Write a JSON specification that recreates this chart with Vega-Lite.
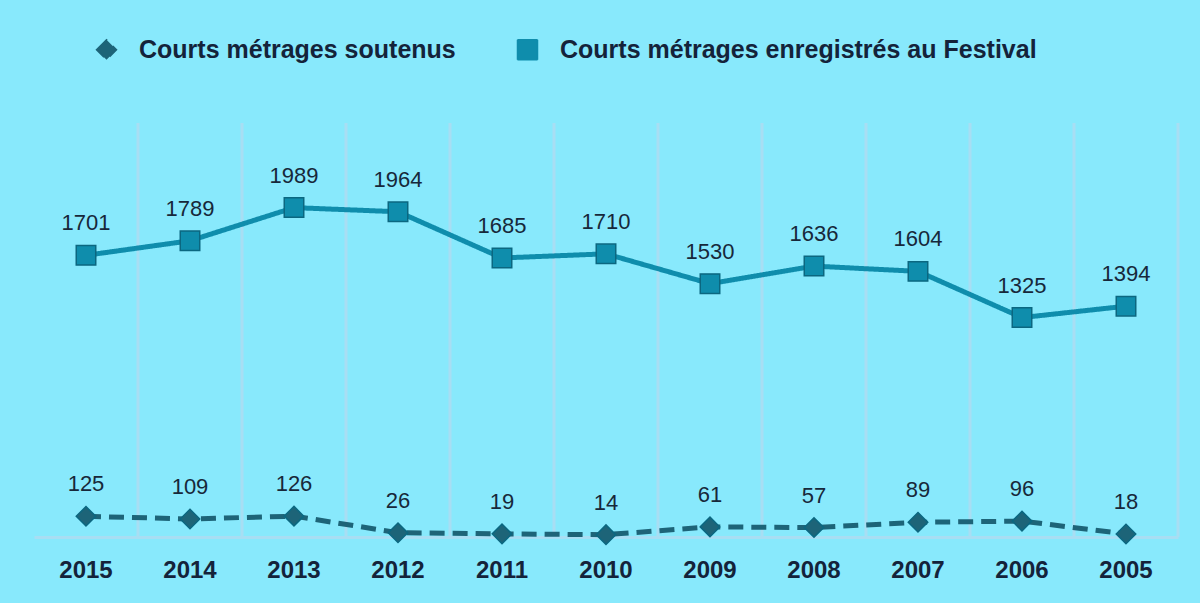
{
  "$schema": "https://vega.github.io/schema/vega-lite/v6.json",
  "width": 1144,
  "height": 414,
  "autosize": {"type": "none"},
  "padding": {"left": 34, "top": 123, "right": 22, "bottom": 66},
  "background": "#88e9fc",
  "config": {
    "view": {"stroke": null},
    "font": "Liberation Sans"
  },
  "data": {
    "values": [
      {"annee": "2015", "serie": "Courts métrages enregistrés au Festival", "valeur": 1701},
      {"annee": "2014", "serie": "Courts métrages enregistrés au Festival", "valeur": 1789},
      {"annee": "2013", "serie": "Courts métrages enregistrés au Festival", "valeur": 1989},
      {"annee": "2012", "serie": "Courts métrages enregistrés au Festival", "valeur": 1964},
      {"annee": "2011", "serie": "Courts métrages enregistrés au Festival", "valeur": 1685},
      {"annee": "2010", "serie": "Courts métrages enregistrés au Festival", "valeur": 1710},
      {"annee": "2009", "serie": "Courts métrages enregistrés au Festival", "valeur": 1530},
      {"annee": "2008", "serie": "Courts métrages enregistrés au Festival", "valeur": 1636},
      {"annee": "2007", "serie": "Courts métrages enregistrés au Festival", "valeur": 1604},
      {"annee": "2006", "serie": "Courts métrages enregistrés au Festival", "valeur": 1325},
      {"annee": "2005", "serie": "Courts métrages enregistrés au Festival", "valeur": 1394},
      {"annee": "2015", "serie": "Courts métrages soutenus", "valeur": 125},
      {"annee": "2014", "serie": "Courts métrages soutenus", "valeur": 109},
      {"annee": "2013", "serie": "Courts métrages soutenus", "valeur": 126},
      {"annee": "2012", "serie": "Courts métrages soutenus", "valeur": 26},
      {"annee": "2011", "serie": "Courts métrages soutenus", "valeur": 19},
      {"annee": "2010", "serie": "Courts métrages soutenus", "valeur": 14},
      {"annee": "2009", "serie": "Courts métrages soutenus", "valeur": 61},
      {"annee": "2008", "serie": "Courts métrages soutenus", "valeur": 57},
      {"annee": "2007", "serie": "Courts métrages soutenus", "valeur": 89},
      {"annee": "2006", "serie": "Courts métrages soutenus", "valeur": 96},
      {"annee": "2005", "serie": "Courts métrages soutenus", "valeur": 18}
    ]
  },
  "layer": [
    {
      "transform": [{"filter": "datum.serie === 'Courts métrages soutenus'"}],
      "mark": {"type": "rule", "color": "#a8def3", "strokeWidth": 3},
      "encoding": {
        "x": {
          "field": "annee", "type": "ordinal", "bandPosition": 1,
          "sort": ["2015","2014","2013","2012","2011","2010","2009","2008","2007","2006","2005"],
          "scale": {"type": "band", "paddingInner": 0, "paddingOuter": 0},
          "axis": {
            "title": null, "ticks": false, "grid": false, "labelAngle": 0,
            "labelFontSize": 24, "labelFontWeight": "bold", "labelColor": "#14233a",
            "labelFont": "Liberation Sans", "labelPadding": 21,
            "domain": true, "domainColor": "#a8def3", "domainWidth": 3
          }
        },
        "y": {"datum": 2500, "type": "quantitative", "scale": {"domain": [0, 2500], "nice": false, "zero": true}, "axis": null},
        "y2": {"datum": 0}
      }
    },
    {
      "mark": {"type": "line", "strokeWidth": 5},
      "encoding": {
        "x": {"field": "annee", "type": "ordinal", "sort": ["2015","2014","2013","2012","2011","2010","2009","2008","2007","2006","2005"]},
        "y": {"field": "valeur", "type": "quantitative", "scale": {"domain": [0, 2500], "nice": false}},
        "color": {
          "field": "serie", "type": "nominal",
          "scale": {"domain": ["Courts métrages soutenus", "Courts métrages enregistrés au Festival"], "range": ["#1d6478", "#0f8dac"]}
        },
        "strokeDash": {
          "field": "serie", "type": "nominal",
          "scale": {"domain": ["Courts métrages soutenus", "Courts métrages enregistrés au Festival"], "range": [[15, 8], [1, 0]]}
        }
      }
    },
    {
      "mark": {"type": "point", "filled": true, "opacity": 1, "size": 380, "stroke": "#0b6780", "strokeWidth": 1.5},
      "encoding": {
        "x": {"field": "annee", "type": "ordinal", "sort": ["2015","2014","2013","2012","2011","2010","2009","2008","2007","2006","2005"]},
        "y": {"field": "valeur", "type": "quantitative", "scale": {"domain": [0, 2500], "nice": false}},
        "color": {
          "field": "serie", "type": "nominal",
          "scale": {"domain": ["Courts métrages soutenus", "Courts métrages enregistrés au Festival"], "range": ["#1d6478", "#1597b6"]}
        },
        "shape": {
          "field": "serie", "type": "nominal",
          "scale": {"domain": ["Courts métrages soutenus", "Courts métrages enregistrés au Festival"], "range": ["diamond", "square"]},
          "legend": {
            "orient": "top",
            "offset": 0,
            "padding": 60,
            "direction": "horizontal",
            "title": null,
            "labelFontSize": 25,
            "labelFontWeight": "bold",
            "labelColor": "#14233a",
            "labelFont": "Liberation Sans",
            "symbolSize": 400,
            "columnPadding": 58,
            "labelOffset": 20,
            "labelLimit": 700
          }
        }
      }
    },
    {
      "mark": {"type": "text", "dy": -32, "fontSize": 22, "color": "#17283a", "font": "Liberation Sans"},
      "encoding": {
        "x": {"field": "annee", "type": "ordinal", "sort": ["2015","2014","2013","2012","2011","2010","2009","2008","2007","2006","2005"]},
        "y": {"field": "valeur", "type": "quantitative", "scale": {"domain": [0, 2500], "nice": false}},
        "text": {"field": "valeur", "type": "quantitative"}
      }
    }
  ]
}
